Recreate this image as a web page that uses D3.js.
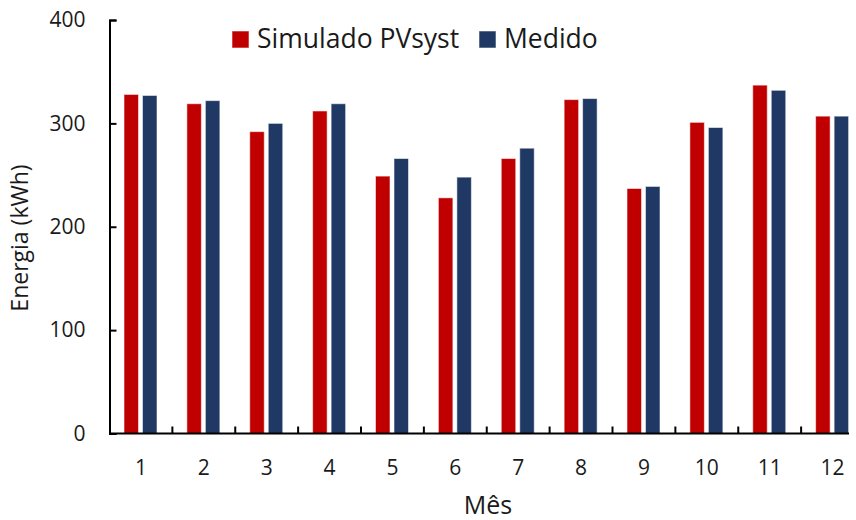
<!DOCTYPE html>
<html>
<head>
<meta charset="utf-8">
<script src="https://cdn.jsdelivr.net/npm/d3@7"></script>
<style>
  html, body { margin: 0; padding: 0; background: #fff; }
  svg { display: block; font-family: "Open Sans", "Noto Sans", sans-serif; }
</style>
</head>
<body>
<svg id="chart" width="856" height="520"></svg>
<script>
// Monthly energy, simulated vs measured (kWh)
const months = ["1","2","3","4","5","6","7","8","9","10","11","12"];
const simulado = [328, 319, 292, 312, 249, 228, 266, 323, 237, 301, 337, 307];
const medido   = [327, 322, 300, 319, 266, 248, 276, 324, 239, 296, 332, 307];
const seriesNames = ["Simulado PVsyst", "Medido"];
const seriesColors = ["#C00000", "#1F3864"];
const yTicks = [0, 100, 200, 300, 400];

const svg = d3.select("#chart");
const mLeft = 109.5, mRight = 864, mTop = 20, mBottom = 433.5;
const textColor = "#1a1a1a";

const x = d3.scaleBand().domain(months).range([mLeft, mRight]).paddingInner(0).paddingOuter(0);
// two bars per month, narrow gap between them
const xs = d3.scaleBand().domain([0, 1]).range([14.5, 47.5]).paddingInner(0.216).paddingOuter(0);
const y = d3.scaleLinear().domain([0, 400]).range([mBottom, mTop]);

// clip region so the chart ends at the frame edge
svg.append("clipPath").attr("id", "plotclip")
  .append("rect").attr("x", 0).attr("y", 0).attr("width", 849).attr("height", 520);

const plot = svg.append("g").attr("clip-path", "url(#plotclip)");

const rows = months.map((m, i) => ({ m, vals: [simulado[i], medido[i]] }));

plot.append("g").selectAll("g").data(rows).join("g")
  .attr("transform", d => `translate(${x(d.m)},0)`)
  .selectAll("rect").data(d => d.vals.map((v, k) => ({ v, k }))).join("rect")
  .attr("x", d => xs(d.k))
  .attr("width", xs.bandwidth())
  .attr("y", d => y(d.v))
  .attr("height", d => y(0) - y(d.v))
  .attr("fill", d => seriesColors[d.k])
  .attr("stroke", "#ffffff")
  .attr("stroke-opacity", 0.55)
  .attr("stroke-width", 1);

// x axis: ticks between categories, pointing inward
const xBoundaries = d3.range(1, months.length).map(i => mLeft + i * x.bandwidth());
const xAxisG = plot.append("g").attr("transform", `translate(0,${mBottom})`);
xAxisG.append("line").attr("x1", mLeft).attr("x2", mRight).attr("y1", 0).attr("y2", 0)
  .attr("stroke", "#000").attr("stroke-width", 2);
xAxisG.selectAll("line.tk").data(xBoundaries).join("line").attr("class", "tk")
  .attr("x1", d => d).attr("x2", d => d).attr("y1", 0).attr("y2", -7)
  .attr("stroke", "#000").attr("stroke-width", 2);
xAxisG.selectAll("text").data(months).join("text")
  .attr("x", d => x(d) + x.bandwidth() / 2)
  .attr("y", 41)
  .attr("text-anchor", "middle")
  .attr("font-size", 21)
  .attr("fill", textColor)
  .text(d => d);

// y axis with inward ticks
const yAxis = d3.axisLeft(y).tickValues(yTicks).tickSizeInner(-7).tickSizeOuter(-7).tickPadding(24);
const yAxisG = svg.append("g").attr("transform", `translate(${mLeft},0)`).call(yAxis);
yAxisG.select(".domain").attr("stroke", "#000").attr("stroke-width", 2);
yAxisG.selectAll(".tick line").attr("stroke", "#000").attr("stroke-width", 2);
yAxisG.selectAll(".tick text").attr("font-size", 21).attr("fill", textColor)
  .attr("font-family", "'Open Sans', 'Noto Sans', sans-serif");

// axis titles
svg.append("text")
  .attr("transform", "translate(28,238) rotate(-90)")
  .attr("text-anchor", "middle")
  .attr("font-size", 23)
  .attr("fill", textColor)
  .text("Energia (kWh)");

svg.append("text")
  .attr("x", 488).attr("y", 514)
  .attr("text-anchor", "middle")
  .attr("font-size", 25)
  .attr("fill", textColor)
  .text("Mês");

// legend
const legend = svg.append("g").attr("transform", "translate(232,31)");
const legendX = [0, 247];
seriesNames.forEach((name, k) => {
  const g = legend.append("g").attr("transform", `translate(${legendX[k]},0)`);
  g.append("rect").attr("width", 17).attr("height", 17).attr("fill", seriesColors[k])
    .attr("stroke", "#ffffff").attr("stroke-opacity", 0.55);
  g.append("text").attr("x", 25).attr("y", 16.5).attr("font-size", 26.5).attr("fill", textColor).text(name);
});
</script>
</body>
</html>
